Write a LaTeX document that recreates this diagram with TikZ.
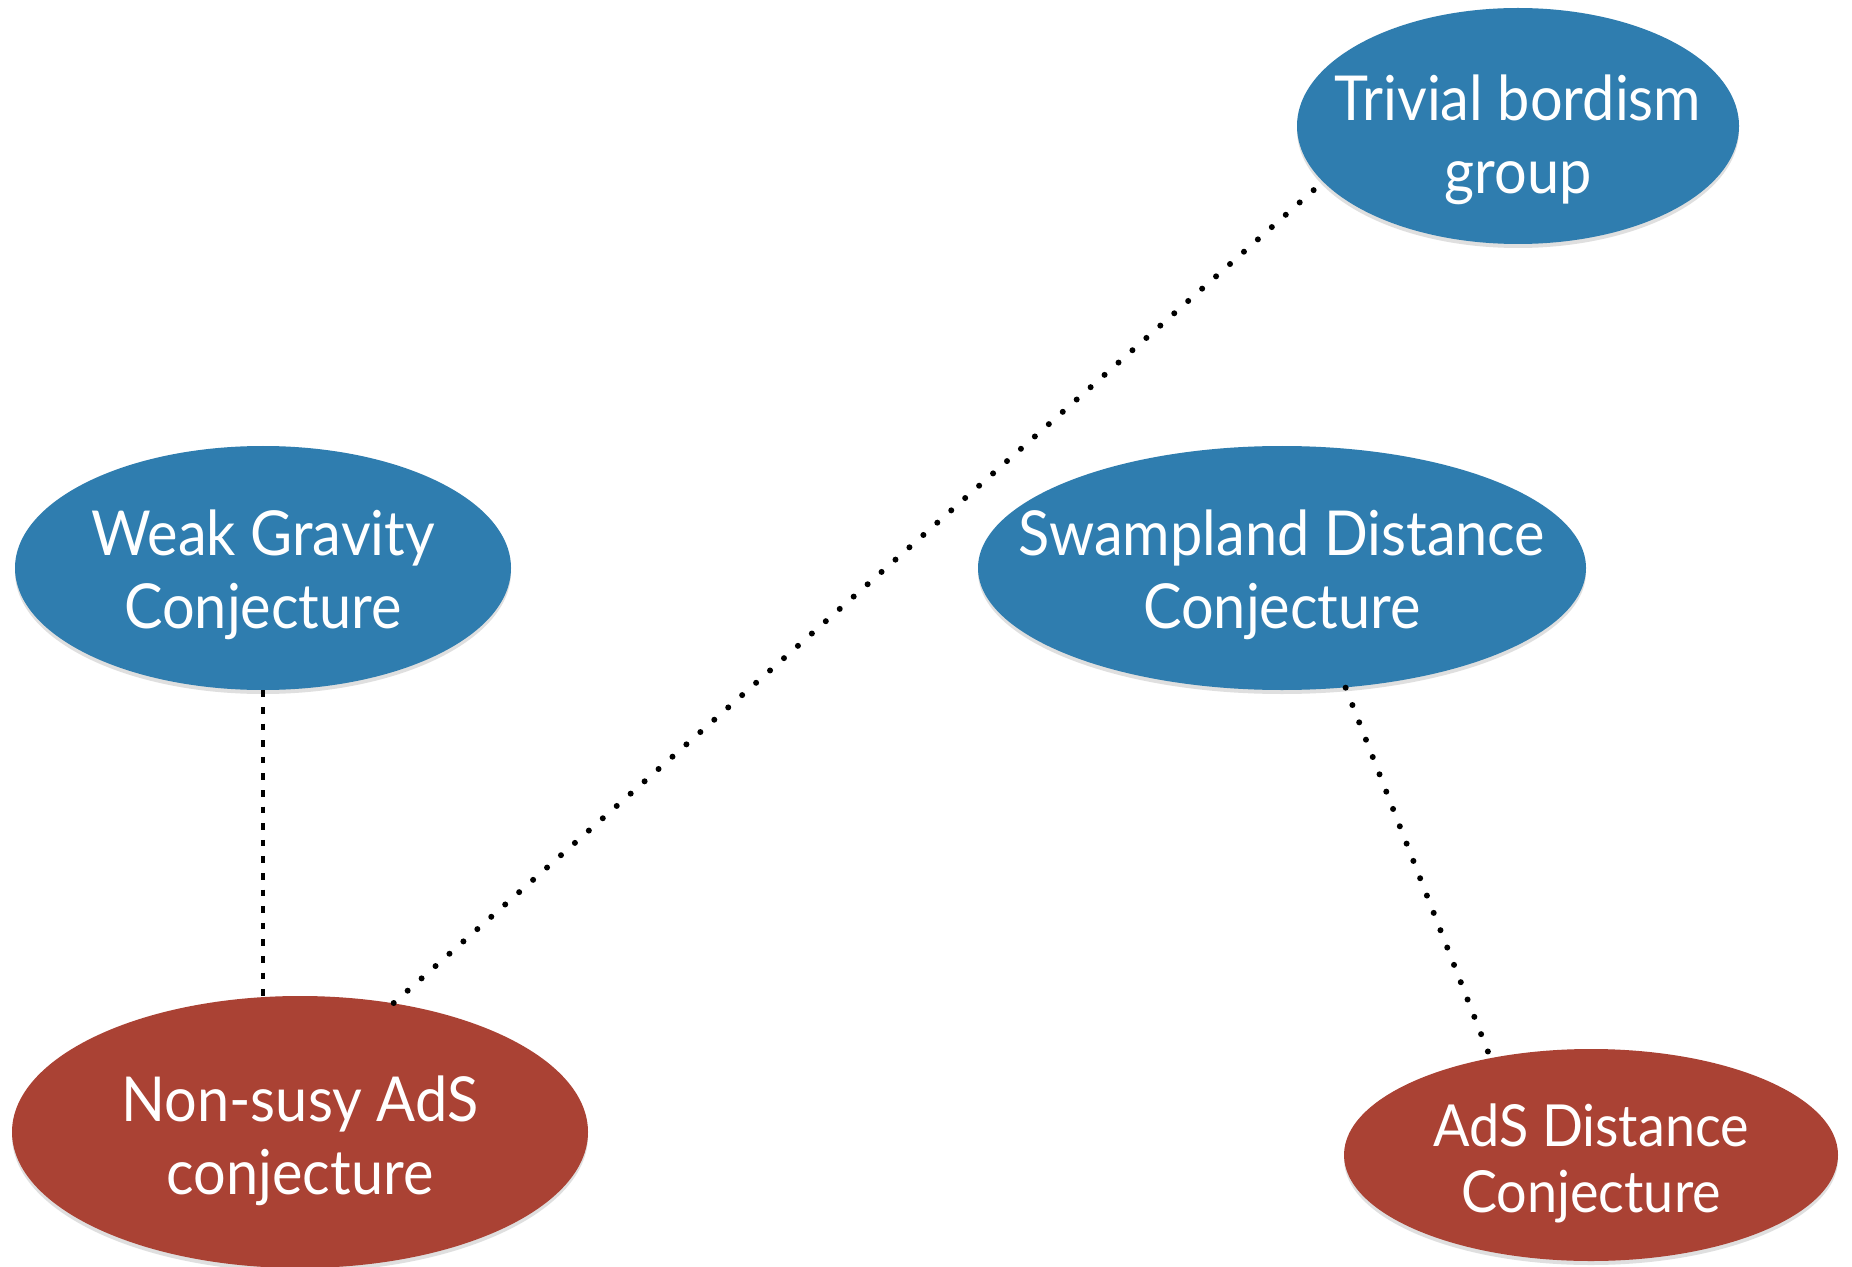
\documentclass[tikz,border=0pt]{standalone}
\usepackage{fontspec}
\setmainfont{Lato}[FakeStretch=0.93]
\usetikzlibrary{shapes.geometric,shadows}
\definecolor{bblue}{RGB}{47,125,175}
\definecolor{rred}{RGB}{170,66,52}
\begin{document}
\begin{tikzpicture}[x=0.5pt,y=-0.5pt,
  bub/.style={ellipse, inner sep=0pt, draw=none,
    drop shadow={opacity=0.25, shadow xshift=0pt, shadow yshift=-2pt}},
  blueb/.style={bub, fill=bblue},
  redb/.style={bub, fill=rred},
  txt/.style={text=white, align=center, inner sep=0pt,
    font=\fontsize{31}{36.5}\selectfont},
  smalltxt/.style={txt, font=\fontsize{29}{33}\selectfont},
  dotline/.style={line width=3pt, line cap=round, dash pattern=on 0pt off 9.3pt},
  dashline/.style={line width=2.2pt, dash pattern=on 3.3pt off 5pt}]
\useasboundingbox (0,0) rectangle (1852,1267);
\fill[white] (0,0) rectangle (1852,1267);

\node[blueb, minimum width=221pt, minimum height=118pt,
  label={[name=TBt, txt, yshift=-7pt]center:Trivial bordism\\group}] (TB) at (1518,126) {};
\node[blueb, minimum width=248pt, minimum height=122pt,
  label={[name=WGt, txt, yshift=-3.5pt]center:Weak Gravity\\Conjecture}] (WG) at (263,568) {};
\node[blueb, minimum width=304pt, minimum height=122pt,
  label={[name=SDt, txt, yshift=-3.5pt]center:Swampland Distance\\Conjecture}] (SD) at (1282,568) {};
\node[redb, minimum width=288pt, minimum height=136pt,
  label={[name=NSt, txt, yshift=-4.5pt]center:Non-susy AdS\\conjecture}] (NS) at (300,1132) {};
\node[redb, minimum width=247pt, minimum height=106pt,
  label={[name=ADt, smalltxt, yshift=-4pt]center:AdS Distance\\Conjecture}] (AD) at (1591,1155) {};

\draw[dashline] (WG.south) -- (WG.south |- NS.north);
\draw[dotline] (NS.54) -- (TB.196);
\draw[dotline] (SD.298) -- (AD.136);
\end{tikzpicture}
\end{document}
